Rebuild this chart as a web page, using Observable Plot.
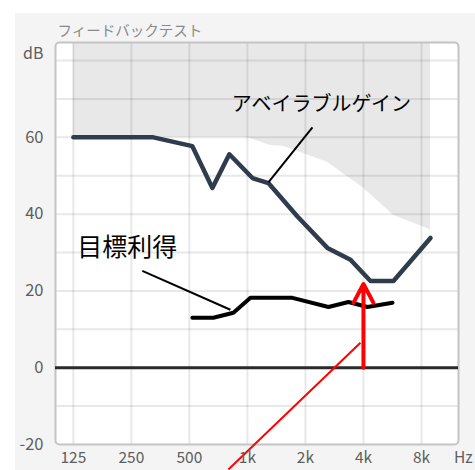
<!DOCTYPE html>
<html><head><meta charset="utf-8">
<script src="https://cdn.jsdelivr.net/npm/d3@7"></script>
<script src="https://cdn.jsdelivr.net/npm/@observablehq/plot@0.6"></script>
<style>
body{margin:0;background:#fff;}
#chart svg{display:block;}
</style></head><body><div id="chart"></div>
<script>
const title = "フィードバックテスト";
const yUnit = "dB";
const yUnitPos = 81.8;
const xTicks = [125, 250, 500, 1000, 2000, 4000, 8000];
const xTickLabels = ["125", "250", "500", "1k", "2k", "4k", "8k"];
const xUnit = "Hz";
const xUnitPos = 13200;
const yTicks = [-20, 0, 20, 40, 60];
const yTickLabels = ["-20", "0", "20", "40", "60"];
const yGrid = [-10, 0, 10, 20, 30, 40, 50, 60, 70, 80];
const yTop = 84.7;

// available gain (dark line)
const availFreq = [125, 325, 518, 658, 806, 1062, 1285, 1818, 2600, 3425, 4350, 5725, 8910];
const availGain = [60, 60, 57.7, 46.8, 55.6, 49.4, 48.1, 39.4, 31.2, 28.1, 22.6, 22.6, 33.8];
// target gain (black line)
const targetFreq = [518, 666, 846, 1037, 1713, 2634, 3344, 4196, 5657];
const targetGain = [13, 13, 14.3, 18.2, 18.2, 15.8, 17.1, 15.8, 16.9];
// shaded limit boundary
const limitFreq = [125, 980, 1037, 1317, 1538, 2600, 4000, 5725, 8700, 8910];
const limitGain = [60, 60, 59.7, 57.9, 57.7, 53.5, 46.8, 39.7, 36.1, 35.8];

// annotations
const availLabel = {f: 2421, g: 68.6, t: "アベイラブルゲイン"};
const availLeader = {f1: 2175, g1: 62.6, f2: 1285, g2: 48.3};
const targetLabel = {f: 238, g: 31.2, t: "目標利得"};
const targetLeader = {f1: 285, g1: 25.2, f2: 816, g2: 15.1};
const redArrow = {f1: 4000, g1: 0, f2: 4000, g2: 21.8};
const redLine = {f1: 3860, g1: 6.5, f2: 797, g2: -26.5};

const avail = availFreq.map((f, i) => ({f, g: availGain[i]}));
const target = targetFreq.map((f, i) => ({f, g: targetGain[i]}));
const limit = limitFreq.map((f, i) => ({f, g: limitGain[i]}));
const xLab = xTicks.map((f, i) => ({f, t: xTickLabels[i]})).concat([{f: xUnitPos, t: xUnit}]);
const yLab = yTicks.map((g, i) => ({g, t: yTickLabels[i]}));

const font = "'Noto Sans CJK JP', 'Noto Sans', sans-serif";
const tickColor = "#5e5e5e";

const plot = Plot.plot({
  width: 475, height: 470,
  marginLeft: 55, marginRight: 17, marginTop: 42, marginBottom: 26,
  style: {fontFamily: font, overflow: "visible"},
  x: {type: "log", domain: [101, 12450], axis: null},
  y: {domain: [-20, yTop], axis: null},
  marks: [
    Plot.frame({fill: "white", stroke: null, rx: 4}),
    Plot.areaY(limit, {x: "f", y1: "g", y2: yTop, fill: "#e8e8e8"}),
    Plot.ruleX(xTicks, {x: d => d, stroke: "#000", strokeOpacity: 0.09, strokeWidth: 2}),
    Plot.ruleY(yGrid, {y: d => d, stroke: "#000", strokeOpacity: 0.09, strokeWidth: 2}),
    Plot.frame({stroke: "#c4c4c4", strokeWidth: 2, rx: 4}),
    Plot.ruleY([0], {stroke: "#2a2a2a", strokeWidth: 3}),
    Plot.line(avail, {x: "f", y: "g", stroke: "#2f3c4e", strokeWidth: 4.5}),
    Plot.line(target, {x: "f", y: "g", stroke: "#000", strokeWidth: 4}),
    Plot.link([availLeader], {x1: "f1", y1: "g1", x2: "f2", y2: "g2", stroke: "#000", strokeWidth: 2}),
    Plot.link([targetLeader], {x1: "f1", y1: "g1", x2: "f2", y2: "g2", stroke: "#000", strokeWidth: 2}),
    Plot.link([redLine], {x1: "f1", y1: "g1", x2: "f2", y2: "g2", stroke: "#ff0000", strokeWidth: 2}),
    Plot.arrow([redArrow], {x1: "f1", y1: "g1", x2: "f2", y2: "g2", stroke: "#ff0000", strokeWidth: 4, headLength: 8, headAngle: 56}),
    Plot.text([availLabel], {x: "f", y: "g", text: "t", fontSize: 20, fill: "#000"}),
    Plot.text([targetLabel], {x: "f", y: "g", text: "t", fontSize: 25, fill: "#000"}),
    Plot.text(xLab, {x: "f", text: "t", frameAnchor: "bottom", lineAnchor: "top", dy: 7, fontSize: 15.5, fill: tickColor}),
    Plot.text(yLab, {y: "g", text: "t", frameAnchor: "left", textAnchor: "end", dx: -12, fontSize: 16.5, fill: tickColor}),
    Plot.text([yUnit], {y: yUnitPos, text: d => d, frameAnchor: "left", textAnchor: "end", dx: -12, fontSize: 16, fill: tickColor}),
    Plot.text([title], {text: d => d, frameAnchor: "top-left", textAnchor: "start", dx: 2, dy: -17, fontSize: 14.5, fill: "#8a8a8a"})
  ]
});
plot.style.backgroundColor = "transparent";
plot.style.backgroundImage = "linear-gradient(#f4f4f4,#f4f4f4)";
plot.style.backgroundRepeat = "no-repeat";
plot.style.backgroundPosition = "15px 13px";
plot.style.backgroundSize = "100% 100%";
document.getElementById("chart").appendChild(plot);
</script>
</body></html>
